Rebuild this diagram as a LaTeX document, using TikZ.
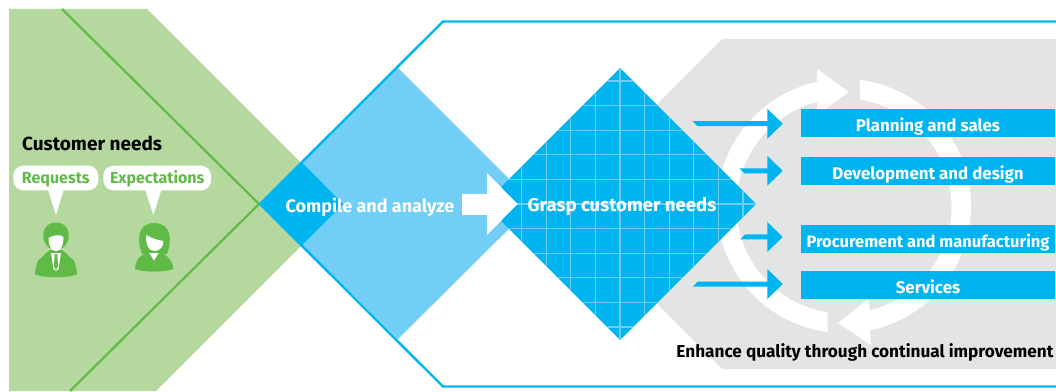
\documentclass[tikz,border=0pt]{standalone}
\usepackage{fontspec}
\setmainfont{Fira Sans}
\definecolor{leafgreen}{HTML}{B5D89F}
\definecolor{needgreen}{HTML}{60BB46}
\definecolor{skyblue}{HTML}{00B5EF}
\definecolor{paleblue}{HTML}{73CEF6}
\definecolor{gridblue}{HTML}{6ECCF6}
\definecolor{paperkgrey}{HTML}{E3E5E5}
\tikzset{
  boxlabel/.style={fill=skyblue, text=white, font=\fontsize{16.9}{20}\selectfont\bfseries,
    minimum width=254, minimum height=28, inner sep=0, text height=20, text depth=3},
  whitelabel/.style={text=white, font=\fontsize{18}{21}\selectfont\bfseries, inner sep=0},
  blacklabel/.style={text=black, font=\fontsize{17.2}{20}\selectfont\bfseries, inner sep=0},
  bubble/.style={fill=white, rounded corners=10, text=needgreen,
    font=\fontsize{16}{19}\selectfont\bfseries, minimum height=24.6, inner sep=0,
    text height=14, text depth=3}
}
\begin{document}
\begin{tikzpicture}[x=1pt,y=1pt]
\useasboundingbox (0,0) rectangle (1056,391);
% green side
\fill[leafgreen] (9,382)--(147,382)--(342.5,186.5)--(156,0)--(9,0)--cycle;
\draw[needgreen, line width=2.2] (62,382)--(259,187)--(70,0);
% blue side
\fill[paleblue] (260,187)--(398,323)--(534,187)--(398,52)--cycle;
\fill[skyblue] (260,187)--(302,228.5)--(343,187)--(302,146)--cycle;
\draw[skyblue, line width=2.4] (1056,369.5)--(443,369.5)--(260,187)--(443,4.5)--(1056,4.5);
% grey side with the improvement cycle
\fill[paperkgrey] (1056,352)--(722,352)--(557,187)--(722,22)--(1056,22)--cycle;
\fill[white] (844,185)+(262.6:127) arc[start angle=262.6, end angle=102.3, radius=127]
  --(817,322)--(849,299)--(817,276)--(817,289.1) arc[start angle=104.5, end angle=261.3, radius=107.5]--cycle;
\fill[white] (844,185)+(82.8:127) arc[start angle=82.8, end angle=-78.2, radius=127]
  --(871,46)--(838,68)--(868,92)--(870,80.7) arc[start angle=-76, end angle=81.4, radius=107.5]--cycle;
% grid diamond
\fill[skyblue] (484,187)--(620,323)--(756,187)--(620,51)--cycle;
\begin{scope}
\clip (484,187)--(620,323)--(756,187)--(620,51)--cycle;
\foreach \k in {-6,...,6}{
  \draw[gridblue, line width=1.1] (620+\k*24.6,51)--(620+\k*24.6,323);
}
\foreach \k in {-5,...,5}{
  \draw[gridblue, line width=1.1] (484,187+\k*24.6)--(756,187+\k*24.6);
}
\end{scope}
% white arrow between the diamonds
\fill[white] (462,197)--(487,197)--(487,218)--(517.5,187)--(487,156)--(487,176)--(462,176)--cycle;
% arrows to the boxes
\foreach \y/\a/\b in {267.3/692.7/697.5, 220.2/739.3/744.3, 154/745/740, 107/698/692.7}{
  \fill[skyblue] (\a,\y+2.5)--(767.3,\y+2.5)--(767.3,\y+15)--(782.7,\y)--(767.3,\y-15)--(767.3,\y-2.5)--(\b,\y-2.5)--cycle;
}
% boxes
\node[boxlabel] (sales) at (928,267.7) {Planning and sales};
\node[boxlabel] (design) at (928,220) {Development and design};
\node[boxlabel, font=\fontsize{16.5}{20}\selectfont\bfseries] (making) at (928,152.2) {Procurement and manufacturing};
\node[boxlabel] (services) at (928,106) {Services};
% texts
\node[whitelabel] (compile) at (370,184) {Compile and analyze};
\node[whitelabel, font=\fontsize{18.6}{21}\selectfont\bfseries] (grasp) at (622,184) {Grasp customer needs};
\node[blacklabel] (enhance) at (865,38.5) {Enhance quality through continual improvement};
\node[blacklabel, anchor=west, font=\fontsize{19}{22}\selectfont\bfseries] (needs) at (22,248) {Customer needs};
% bubbles
\node[bubble, minimum width=85] (requests) at (55.8,213) {Requests};
\node[bubble, minimum width=107.7] (expect) at (157.2,213) {Expectations};
\fill[white] (47.7,202)--(64,202)--(56,176)--cycle;
\fill[white] (145,202)--(161.7,202)--(153.3,176)--cycle;
% man
\fill[needgreen] (35,116.5) .. controls (35.5,125) and (37,131) .. (41,133) .. controls (44,136) and (47,139) .. (50,141)
  --(62,141) .. controls (65,139) and (68,136) .. (71,133) .. controls (75,131) and (76.5,125) .. (77,116.5)
  .. controls (70,113) and (42,113) .. (35,116.5)--cycle;
\fill[needgreen] (49,143) .. controls (40,150) and (41,168.5) .. (56,168.5) .. controls (71,168.5) and (72,150) .. (63,143)--cycle;
\fill[white] (48.5,153) .. controls (48.5,144) and (52,140) .. (56,140) .. controls (60,140) and (63.5,144) .. (63.5,154)
  .. controls (60,157) and (53,156) .. (48.5,153)--cycle;
\fill[white] (51,138)--(61,138)--(58.5,122)--(56,120)--(53.5,122)--cycle;
\fill[needgreen] (54.7,137)--(57.3,137)--(58,125)--(56,120.5)--(54,125)--cycle;
% woman
\fill[needgreen] (142,137) .. controls (137,150) and (137,168) .. (154,168) .. controls (172,168) and (172,150) .. (167,137)--cycle;
\fill[needgreen] (135,122) .. controls (136,132) and (139,135) .. (147,138)--(161,138) .. controls (169,135) and (172.5,130) .. (173.3,122)
  .. controls (165,118.5) and (143,118.5) .. (135,122)--cycle;
\fill[white] (146.5,156) .. controls (145,146) and (149,140) .. (154.5,140) .. controls (160,140) and (164,145) .. (163.3,150)
  .. controls (157,151) and (151,153) .. (146.5,156)--cycle;
\fill[white] (149.3,138)--(158.7,138)--(154,130.5)--cycle;
\end{tikzpicture}
\end{document}
